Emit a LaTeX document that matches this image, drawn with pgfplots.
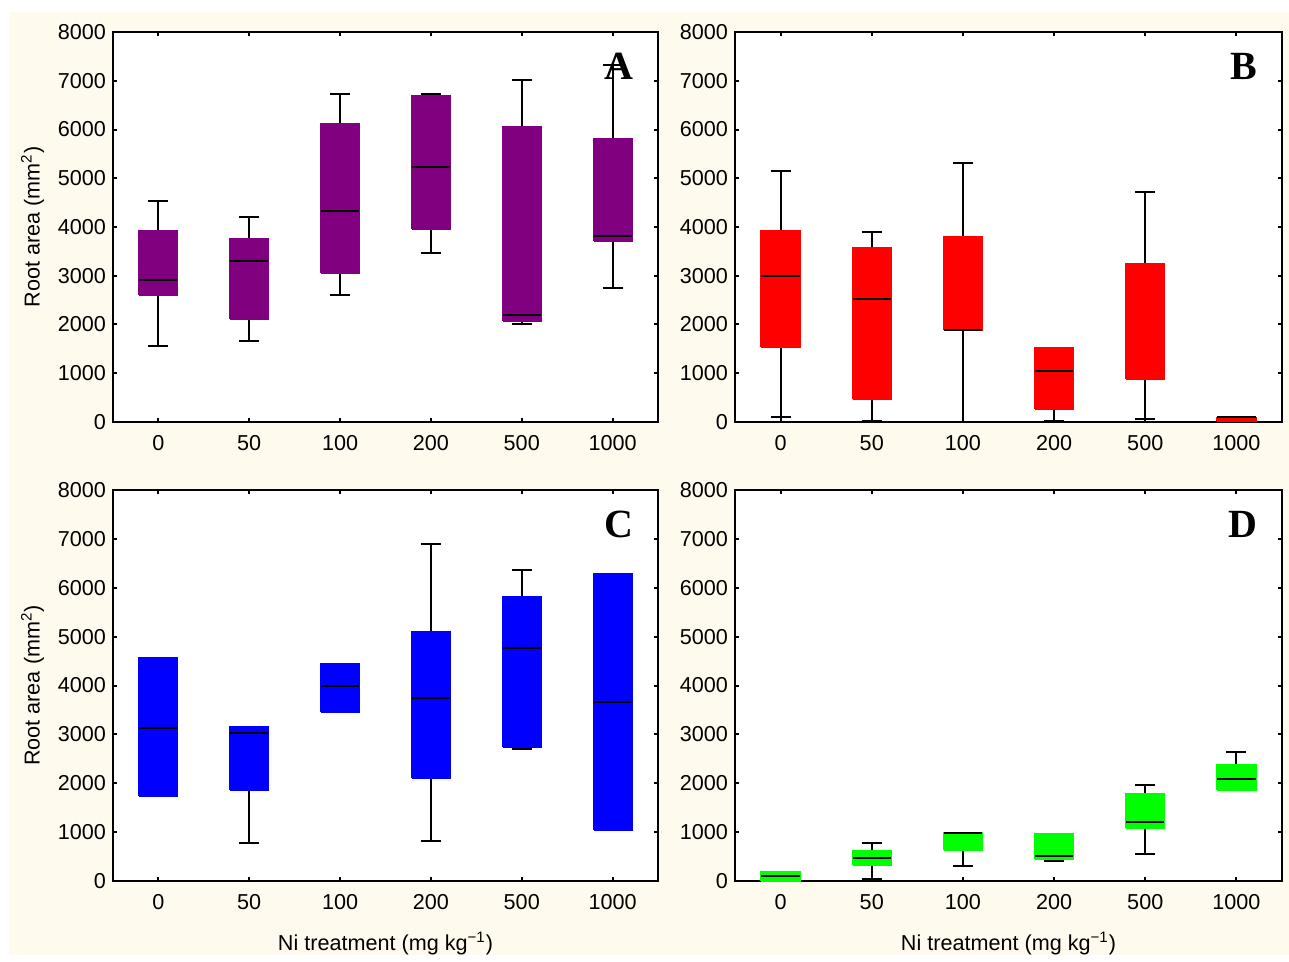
\documentclass[border=0pt]{standalone}
\usepackage{pgfplots}
\pgfplotsset{compat=1.18}
\usepackage{fontspec}
\setmainfont{Liberation Sans}
\newfontfamily\letterfont{Liberation Serif}
\definecolor{cream}{RGB}{255,250,238}
\definecolor{cpurple}{RGB}{128,0,128}
\definecolor{cred}{RGB}{255,0,0}
\definecolor{cblue}{RGB}{0,0,255}
\definecolor{cgreen}{RGB}{0,255,0}

\pgfplotsset{
  panel/.style={
    scale only axis,
    xmin=-0.5, xmax=5.5, ymin=0, ymax=8000,
    xtick={0,1,2,3,4,5},
    xticklabels={0,50,100,200,500,1000},
    ytick={0,1000,2000,3000,4000,5000,6000,7000,8000},
    scaled y ticks=false,
    /pgf/number format/assume math mode=true,
    yticklabel style={/pgf/number format/.cd,1000 sep={}},
    xticklabel style={yshift=-3.4pt},
    tick label style={font=\fontsize{10.8}{13}\selectfont},
    label style={font=\fontsize{10.8}{13}\selectfont},
    tick align=inside,
    major tick length=2pt,
    every tick/.style={black, line width=1pt},
    axis line style={line width=1pt},
    axis background/.style={fill=white},
  },
}
% box: [median colour] position, lower whisker, lower quartile, median, upper quartile, upper whisker, colour
\newcommand{\bxp}[8][black]{%
  \pgfmathsetmacro\xl{#2-0.21}\pgfmathsetmacro\xr{#2+0.21}%
  \pgfmathsetmacro\cl{#2-0.11}\pgfmathsetmacro\cr{#2+0.11}%
  \edef\temp{%
    \noexpand\addplot[black, line width=1pt] coordinates {(#2,#3) (#2,#7)};
    \noexpand\addplot[black, line width=1pt] coordinates {(\cl,#3) (\cr,#3)};
    \noexpand\addplot[black, line width=1pt] coordinates {(\cl,#7) (\cr,#7)};
    \noexpand\addplot[fill=#8, draw=#8, line width=1pt] coordinates {(\xl,#4) (\xr,#4) (\xr,#6) (\xl,#6) (\xl,#4)};
    \noexpand\addplot[#1, line width=1pt] coordinates {(\xl,#5) (\xr,#5)};
  }%
  \temp
}
\newcommand{\panelletter}[1]{\node[anchor=north east, inner sep=0pt, xshift=-12pt, yshift=-10.5pt, font=\letterfont\bfseries\fontsize{20}{24}\selectfont] at (rel axis cs:1,1) {#1};}

\begin{document}
\begin{tikzpicture}
\fill[white] (0,0) rectangle (644.5pt,477.5pt);
\fill[cream] (4.5pt,0) rectangle (644.5pt,471.5pt);

% Panel A
\begin{axis}[panel, at={(56.5pt,266.5pt)}, anchor=south west, width=272.5pt, height=195pt,
  ylabel={Root area (mm\textsuperscript{2})}]
\bxp{0}{1550}{2607}{2922}{3918}{4533}{cpurple}
\bxp{1}{1652}{2116}{3311}{3748}{4205}{cpurple}
\bxp{2}{2601}{3065}{4335}{6109}{6730}{cpurple}
\bxp{3}{3474}{3966}{5236}{6696}{6730}{cpurple}
\bxp{4}{2020}{2082}{2205}{6048}{7010}{cpurple}
\bxp{5}{2758}{3720}{3816}{5802}{7331}{cpurple}
\panelletter{A}
\end{axis}

% Panel B
\begin{axis}[panel, at={(367.5pt,266.5pt)}, anchor=south west, width=273.5pt, height=195pt]
\bxp{0}{96}{1529}{2997}{3918}{5147}{cred}
\bxp{1}{14}{464}{2532}{3563}{3904}{cred}
\bxp{2}{0}{1891}{1891}{3795}{5317}{cred}
\bxp{3}{14}{259}{1038}{1515}{1038}{cred}
\bxp[cred]{4}{55}{887}{3235}{3235}{4717}{cred}
\bxp{5}{8}{20}{100}{80}{50}{cred}
\panelletter{B}
\end{axis}

% Panel C
\begin{axis}[panel, at={(56.5pt,37pt)}, anchor=south west, width=272.5pt, height=195.5pt,
  ylabel={Root area (mm\textsuperscript{2})},
  xlabel={Ni treatment (mg kg\textsuperscript{−1})},
  xlabel style={yshift=-4pt}]
\bxp{0}{3140}{1748}{3140}{4572}{3140}{cblue}
\bxp{1}{781}{1865}{3037}{3153}{3037}{cblue}
\bxp{2}{3990}{3455}{3990}{4435}{3990}{cblue}
\bxp{3}{823}{2098}{3743}{5086}{6903}{cblue}
\bxp{4}{2708}{2735}{4764}{5813}{6355}{cblue}
\bxp{5}{3661}{1049}{3661}{6286}{3661}{cblue}
\panelletter{C}
\end{axis}

% Panel D
\begin{axis}[panel, at={(367.5pt,37pt)}, anchor=south west, width=273.5pt, height=195.5pt,
  xlabel={Ni treatment (mg kg\textsuperscript{−1})},
  xlabel style={yshift=-4pt}]
\bxp{0}{110}{10}{110}{192}{110}{cgreen}
\bxp{1}{41}{336}{466}{624}{781}{cgreen}
\bxp{2}{302}{638}{987}{987}{987}{cgreen}
\bxp{3}{418}{446}{514}{953}{514}{cgreen}
\bxp{4}{548}{1090}{1213}{1775}{1974}{cgreen}
\bxp{5}{2084}{1871}{2084}{2372}{2632}{cgreen}
\panelletter{D}
\end{axis}
\end{tikzpicture}
\end{document}
